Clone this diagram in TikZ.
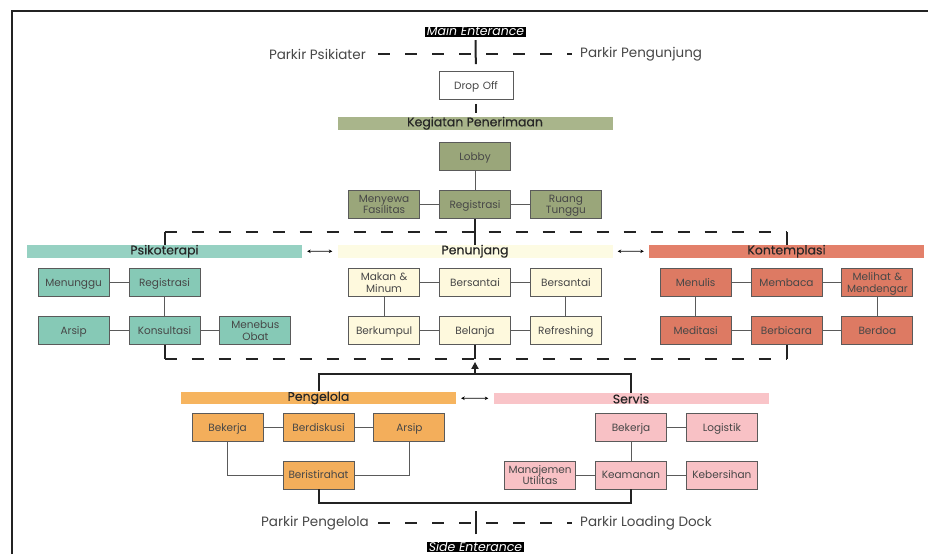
\documentclass[tikz,border=0pt]{standalone}
\usepackage{fontspec}
\setmainfont{Poppins}
\newfontfamily\pitafont[FakeBold=0.25]{Poppins}
\usetikzlibrary{positioning, calc, matrix, arrows.meta}

\definecolor{garisgelap}{HTML}{232323}
\definecolor{garisabu}{HTML}{5A5A5A}
\definecolor{teks}{HTML}{474747}
\definecolor{olivepita}{HTML}{A9B58B}
\definecolor{olivekotak}{HTML}{9AA67A}
\definecolor{tealpita}{HTML}{96D1C2}
\definecolor{tealkotak}{HTML}{86C9B6}
\definecolor{krempita}{HTML}{FDFBE3}
\definecolor{kremkotak}{HTML}{FEF9DD}
\definecolor{salmonpita}{HTML}{E3806A}
\definecolor{salmonkotak}{HTML}{DD7A63}
\definecolor{oranyepita}{HTML}{F6B45F}
\definecolor{oranyekotak}{HTML}{F3AE5B}
\definecolor{pinkpita}{HTML}{F9C4C8}
\definecolor{pinkkotak}{HTML}{F8C1C5}

\tikzset{
  kotak/.style={draw=garisabu, line width=0.9pt, text width=64pt, align=center,
                minimum height=28pt, inner xsep=3.5pt, inner ysep=1pt, text=teks,
                text depth=0pt, anchor=center, font=\fontsize{10.5}{11.5}\selectfont},
  duabaris/.style={text depth=11.5pt},
  pita/.style={minimum width=275pt, minimum height=11pt, inner sep=0pt, text=black!85,
               font=\pitafont\fontsize{12.5}{12.5}\selectfont},
  hubung/.style={draw=garisabu, line width=0.9pt},
  jalur/.style={draw=garisgelap, line width=2pt},
  putus/.style={draw=garisgelap, line width=2pt, dash pattern=on 12pt off 15pt},
  panah/.style={draw=black, line width=0.7pt, >={Stealth[length=3.5pt,width=3.5pt]}, <->,
                shorten <=5pt, shorten >=5pt},
  pintu/.style={fill=black, text=white, inner xsep=2pt, inner ysep=0pt, text height=9pt,
                text depth=1pt, font=\fontsize{12.5}{12.5}\selectfont\itshape},
  parkir/.style={inner sep=0pt, text=teks, font=\fontsize{13.5}{13.5}\selectfont},
  matriks/.style={matrix of nodes, column sep=19pt, row sep=19pt, inner sep=0pt}
}

\begin{document}
\begin{tikzpicture}[x=1pt, y=-1pt]
  \useasboundingbox (0,0) rectangle (928,554);
  \draw[line width=2.5pt, garisgelap] (12,554) -- (12,11) -- (928,11);

  \node[pintu] (masuk) at (475.5,31.5) {Main Enterance};
  \node[parkir, anchor=east] (parkirpsikiater) at (366,54) {Parkir Psikiater};
  \node[parkir, anchor=west] (parkirpengunjung) at (580,54) {Parkir Pengunjung};
  \node[kotak, fill=white, text width=67pt] (dropoff) at (476,85.5) {Drop Off};

  \matrix (penerimaan) [matriks, nodes={kotak, fill=olivekotak}] at (475,180.5)
  {
    & Lobby & \\
    |[duabaris]| {Menyewa\\Fasilitas} & Registrasi & |[duabaris]| {Ruang\\Tunggu} \\
  };
  \matrix (psikoterapi) [matriks, nodes={kotak, fill=tealkotak}] at (164.5,306.5)
  {
    Menunggu & Registrasi & \\
    Arsip & Konsultasi & |[duabaris]| {Menebus\\Obat} \\
  };
  \matrix (penunjang) [matriks, nodes={kotak, fill=kremkotak}] at (475,306.5)
  {
    |[duabaris]| {Makan \&\\Minum} & Bersantai & Bersantai \\
    Berkumpul & Belanja & Refreshing \\
  };
  \matrix (kontemplasi) [matriks, nodes={kotak, fill=salmonkotak}] at (786.5,306.5)
  {
    Menulis & Membaca & |[duabaris]| {Melihat \&\\Mendengar} \\
    Meditasi & Berbicara & Berdoa \\
  };
  \matrix (pengelola) [matriks, nodes={kotak, fill=oranyekotak}] at (318.5,451)
  {
    Bekerja & Berdiskusi & Arsip \\
    & Beristirahat & \\
  };
  \matrix (servis) [matriks, nodes={kotak, fill=pinkkotak}] at (631,451)
  {
    & Bekerja & Logistik \\
    |[duabaris]| {Manajemen\\Utilitas} & Keamanan & Kebersihan \\
  };

  \node[pita, fill=olivepita, above=12pt of penerimaan] (pitapenerimaan) {Kegiatan Penerimaan};
  \node[pita, fill=tealpita, above=10pt of psikoterapi] (pitapsikoterapi) {Psikoterapi};
  \node[pita, fill=krempita, above=10pt of penunjang] (pitapenunjang) {Penunjang};
  \node[pita, fill=salmonpita, above=10pt of kontemplasi] (pitakontemplasi) {Kontemplasi};
  \node[pita, fill=oranyepita, above=8pt of pengelola] (pitapengelola) {Pengelola};
  \node[pita, fill=pinkpita, above=8pt of servis] (pitaservis) {Servis};

  \node[parkir, anchor=east] (parkirpengelola) at (369,523) {Parkir Pengelola};
  \node[parkir, anchor=west] (parkirloading) at (580,523) {Parkir Loading Dock};
  \node[pintu] (samping) at (475.5,547) {Side Enterance};

  \draw[jalur, shorten <=3.5pt, shorten >=7pt] (masuk) -- (dropoff);
  \draw[putus, shorten <=12pt, shorten >=8pt] (parkirpsikiater) -- (parkirpengunjung);
  \draw[jalur, shorten <=4pt, shorten >=4pt] (dropoff.south) -- (dropoff.south |- pitapenerimaan.north);

  \draw[hubung] (penerimaan-1-2) -- (penerimaan-2-2);
  \draw[hubung] (penerimaan-2-1) -- (penerimaan-2-2) -- (penerimaan-2-3);
  \draw[hubung] (psikoterapi-1-1) -- (psikoterapi-1-2) -- (psikoterapi-2-2);
  \draw[hubung] (psikoterapi-2-1) -- (psikoterapi-2-2) -- (psikoterapi-2-3);
  \draw[hubung] (penunjang-2-1) -- (penunjang-1-1) -- (penunjang-1-2) -- (penunjang-1-3) -- (penunjang-2-3);
  \draw[hubung] (penunjang-2-1) -- (penunjang-2-2) -- (penunjang-2-3);
  \draw[hubung] (kontemplasi-2-1) -- (kontemplasi-1-1) -- (kontemplasi-1-2) -- (kontemplasi-1-3) -- (kontemplasi-2-3);
  \draw[hubung] (kontemplasi-2-1) -- (kontemplasi-2-2) -- (kontemplasi-2-3);
  \draw[hubung] (pengelola-1-1) -- (pengelola-1-2) -- (pengelola-1-3);
  \draw[hubung] (pengelola-1-1) |- (pengelola-2-2);
  \draw[hubung] (pengelola-1-3) |- (pengelola-2-2);
  \draw[hubung] (servis-1-3) -- (servis-1-2) -- (servis-2-2);
  \draw[hubung] (servis-2-1) -- (servis-2-2) -- (servis-2-3);

  \draw[panah] (pitapsikoterapi) -- (pitapenunjang);
  \draw[panah] (pitapenunjang) -- (pitakontemplasi);
  \draw[panah] (pitapengelola) -- (pitaservis);

  \coordinate (putusatas) at ($(penerimaan-2-2.south)!0.5!(pitapenunjang.north)$);
  \coordinate (putusbawah) at ($(penunjang-2-2.south)+(0,-14pt)$);
  \coordinate (gabung) at ($(pitapengelola.north)+(0,17pt)$);
  \coordinate (gabungbawah) at ($(pengelola-2-2.south)+(0,-14pt)$);

  \draw[jalur] (penerimaan-2-2.south) -- (penerimaan-2-2.south |- pitapenunjang.north);
  \draw[putus] (psikoterapi-1-2 |- putusatas) -- (kontemplasi-1-2 |- putusatas);
  \draw[jalur] (psikoterapi-1-2 |- putusatas) -- (psikoterapi-1-2 |- pitapsikoterapi.north);
  \draw[jalur] (kontemplasi-1-2 |- putusatas) -- (kontemplasi-1-2 |- pitakontemplasi.north);

  \draw[jalur] (psikoterapi-2-2.south) -- (psikoterapi-2-2 |- putusbawah);
  \draw[putus] (psikoterapi-2-2 |- putusbawah) -- (kontemplasi-2-2 |- putusbawah);
  \draw[jalur] (kontemplasi-2-2.south) -- (kontemplasi-2-2 |- putusbawah);
  \draw[jalur] (penunjang-2-2.south) -- (penunjang-2-2 |- putusbawah);

  \draw[jalur] (pitapengelola.north) -- (gabung) -| (pitaservis.north);
  \draw[jalur, -{Triangle[length=7pt,width=7pt]}] (penunjang-2-2 |- gabung) -- ($(penunjang-2-2 |- putusbawah)+(0,-3pt)$);

  \draw[jalur] (pengelola-2-2.south) -- (pengelola-2-2 |- gabungbawah) -| (servis-2-2.south);
  \draw[putus, shorten <=9pt, shorten >=8pt] (parkirpengelola) -- (parkirloading);
  \draw[jalur, shorten <=7.5pt, shorten >=8pt] (samping.north) -- (samping.north |- gabungbawah);
\end{tikzpicture}
\end{document}
